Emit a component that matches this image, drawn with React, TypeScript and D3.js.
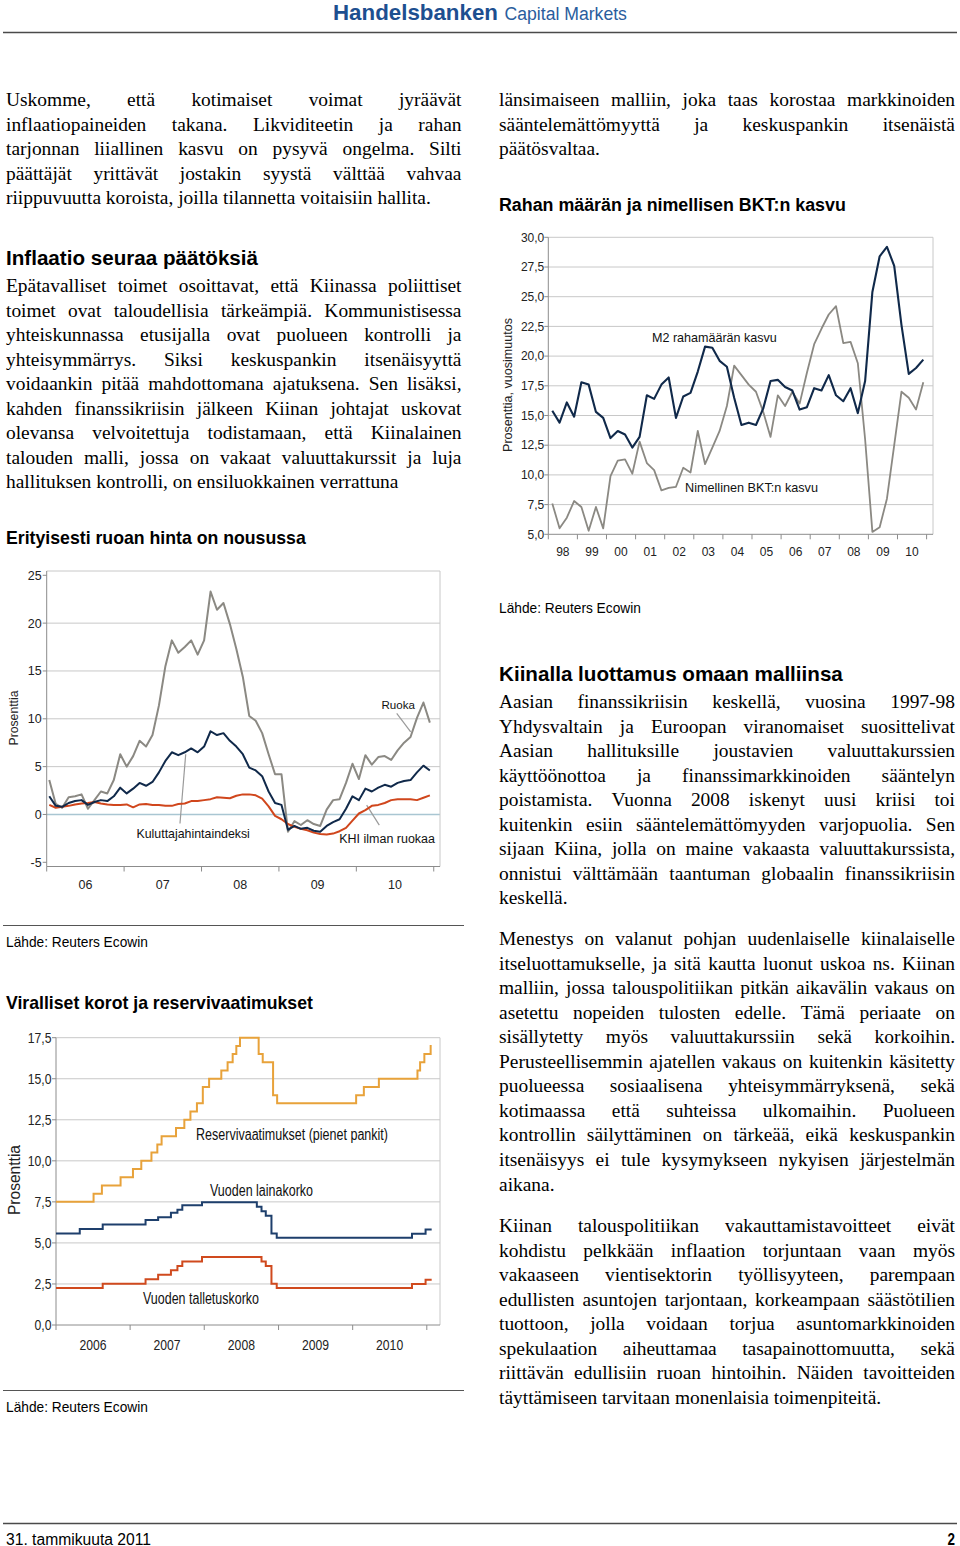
import React from 'react';
import * as d3 from 'd3';

// ---------------- Chart 1: money supply vs nominal GDP (quarterly 1998Q1–2010Q4)
const c1Years = d3.range(1998, 2011);
const c1YTicks = [5, 7.5, 10, 12.5, 15, 17.5, 20, 22.5, 25, 27.5, 30];
const m2Growth = [15.4, 14.4, 16.1, 14.9, 17.8, 17.6, 15.3, 14.8, 13.1, 13.7, 13.4, 12.3, 13.2, 16.7, 16.4, 17.6, 18.2, 14.8, 16.6, 16.9, 18.7, 20.8, 20.7, 19.6, 19.1, 16.5, 14.2, 14.4, 14.2, 15.6, 17.9, 18.0, 17.4, 17.1, 15.5, 15.7, 17.3, 17.1, 18.4, 16.7, 16.2, 17.3, 15.2, 17.9, 25.4, 28.4, 29.2, 27.6, 22.6, 18.5, 19.0, 19.7];
const gdpGrowth = [7.6, 5.5, 6.4, 7.8, 7.3, 5.3, 7.3, 5.5, 9.9, 11.2, 11.3, 10.1, 12.8, 11.0, 10.4, 8.7, 8.9, 9.0, 10.6, 10.2, 13.7, 10.9, 12.3, 13.7, 15.8, 19.2, 18.4, 17.6, 17.0, 15.3, 13.2, 16.7, 15.8, 17.0, 16.0, 18.6, 21.0, 22.3, 23.5, 24.2, 21.1, 21.2, 19.4, 13.0, 5.2, 5.6, 8.0, 12.5, 17.0, 16.5, 15.5, 17.8];

// ---------------- Chart 2: inflation (monthly 2006-01 – 2010-12)
const c2Years = ['06', '07', '08', '09', '10'];
const c2YTicks = [-5, 0, 5, 10, 15, 20, 25];
const foodInfl = [3.6, 1.1, 0.7, 1.8, 1.9, 2.1, 0.6, 1.5, 2.4, 2.2, 3.6, 6.3, 5.0, 6.1, 7.7, 7.1, 8.3, 11.4, 15.5, 18.2, 16.9, 17.5, 18.2, 16.7, 18.2, 23.3, 21.4, 22.1, 19.9, 17.3, 14.4, 10.3, 9.8, 8.5, 6.3, 4.2, 4.2, -1.8, -0.7, -1.1, -0.6, -1.0, -1.2, 0.5, 1.5, 1.6, 3.3, 5.3, 3.7, 6.2, 5.2, 6.0, 6.1, 5.7, 6.7, 7.5, 8.1, 10.1, 11.7, 9.6];
const cpiInfl = [1.9, 0.9, 0.8, 1.2, 1.4, 1.5, 1.0, 1.3, 1.5, 1.4, 1.9, 2.8, 2.2, 2.7, 3.3, 3.0, 3.4, 4.4, 5.6, 6.5, 6.2, 6.5, 6.9, 6.5, 7.1, 8.7, 8.3, 8.5, 7.7, 7.1, 6.3, 4.9, 4.6, 4.0, 2.4, 1.2, 1.0, -1.6, -1.2, -1.5, -1.4, -1.7, -1.8, -1.2, -0.8, -0.5, 0.6, 1.9, 1.5, 2.7, 2.4, 2.8, 3.1, 2.9, 3.3, 3.5, 3.6, 4.4, 5.1, 4.6];
const nonFoodInfl = [1.0, 0.7, 0.8, 0.9, 1.05, 1.15, 1.2, 1.3, 1.15, 1.05, 1.0, 1.0, 1.05, 0.75, 1.05, 1.1, 1.0, 1.0, 0.9, 0.9, 1.1, 1.15, 1.4, 1.4, 1.5, 1.6, 1.8, 1.75, 1.7, 1.95, 2.1, 2.1, 2.0, 1.65, 0.85, -0.15, -0.5, -1.0, -1.3, -1.5, -1.65, -1.9, -2.05, -2.1, -2.0, -1.75, -1.4, -0.65, 0.1, 0.45, 0.9, 1.0, 1.2, 1.5, 1.6, 1.6, 1.6, 1.5, 1.75, 2.0];

// ---------------- Chart 3: official rates & reserve requirement (step series)
const c3Years = ['2006', '2007', '2008', '2009', '2010'];
const c3YTicks = [0, 2.5, 5, 7.5, 10, 12.5, 15, 17.5];
const c3End = '2011-01-25';
const rrrDates = ['2006-01-01', '2006-07-05', '2006-08-15', '2006-11-15', '2007-01-15', '2007-02-25', '2007-04-16', '2007-05-15', '2007-06-05', '2007-08-15', '2007-09-25', '2007-10-25', '2007-11-26', '2007-12-25', '2008-01-25', '2008-03-25', '2008-04-25', '2008-05-20', '2008-06-07', '2008-06-25', '2008-09-25', '2008-10-15', '2008-12-05', '2008-12-25', '2010-01-18', '2010-02-25', '2010-05-10', '2010-11-16', '2010-11-29', '2010-12-20', '2011-01-20'];
const rrrValues = [7.5, 8.0, 8.5, 9.0, 9.5, 10.0, 10.5, 11.0, 11.5, 12.0, 12.5, 13.0, 13.5, 14.5, 15.0, 15.5, 16.0, 16.5, 17.0, 17.5, 16.5, 16.0, 14.0, 13.5, 14.0, 14.5, 15.0, 15.5, 16.0, 16.5, 17.0];
const lendDates = ['2006-01-01', '2006-04-28', '2006-08-19', '2007-03-18', '2007-05-19', '2007-07-21', '2007-08-22', '2007-09-15', '2007-12-21', '2008-09-16', '2008-10-09', '2008-10-30', '2008-11-27', '2008-12-23', '2010-10-20', '2010-12-26'];
const lendValues = [5.58, 5.85, 6.12, 6.39, 6.57, 6.84, 7.02, 7.29, 7.47, 7.2, 6.93, 6.66, 5.58, 5.31, 5.56, 5.81];
const depDates = ['2006-01-01', '2006-08-19', '2007-03-18', '2007-05-19', '2007-07-21', '2007-08-22', '2007-09-15', '2007-12-21', '2008-10-09', '2008-10-30', '2008-11-27', '2008-12-23', '2010-10-20', '2010-12-26'];
const depValues = [2.25, 2.52, 2.79, 3.06, 3.33, 3.6, 3.87, 4.14, 3.87, 3.6, 2.52, 2.25, 2.5, 2.75];

// ---------------- Text
const leftP1 = [
  'Uskomme, että kotimaiset voimat jyräävät',
  'inflaatiopaineiden takana. Likviditeetin ja rahan',
  'tarjonnan liiallinen kasvu on pysyvä ongelma. Silti',
  'päättäjät yrittävät jostakin syystä välttää vahvaa',
  'riippuvuutta koroista, joilla tilannetta voitaisiin hallita.',
];
const leftP2 = [
  'Epätavalliset toimet osoittavat, että Kiinassa poliittiset',
  'toimet ovat taloudellisia tärkeämpiä. Kommunistisessa',
  'yhteiskunnassa etusijalla ovat puolueen kontrolli ja',
  'yhteisymmärrys. Siksi keskuspankin itsenäisyyttä',
  'voidaankin pitää mahdottomana ajatuksena. Sen lisäksi,',
  'kahden finanssikriisin jälkeen Kiinan johtajat uskovat',
  'olevansa velvoitettuja todistamaan, että Kiinalainen',
  'talouden malli, jossa on vakaat valuuttakurssit ja luja',
  'hallituksen kontrolli, on ensiluokkainen verrattuna',
];
const rightP1 = [
  'länsimaiseen malliin, joka taas korostaa markkinoiden',
  'sääntelemättömyyttä ja keskuspankin itsenäistä',
  'päätösvaltaa.',
];
const rightP2 = [
  'Aasian finanssikriisin keskellä, vuosina 1997-98',
  'Yhdysvaltain ja Euroopan viranomaiset suosittelivat',
  'Aasian hallituksille joustavien valuuttakurssien',
  'käyttöönottoa ja finanssimarkkinoiden sääntelyn',
  'poistamista. Vuonna 2008 iskenyt uusi kriisi toi',
  'kuitenkin esiin sääntelemättömyyden varjopuolia. Sen',
  'sijaan Kiina, jolla on maine vakaasta valuuttakurssista,',
  'onnistui välttämään taantuman globaalin finanssikriisin',
  'keskellä.',
];
const rightP3 = [
  'Menestys on valanut pohjan uudenlaiselle kiinalaiselle',
  'itseluottamukselle, ja sitä kautta luonut uskoa ns. Kiinan',
  'malliin, jossa talouspolitiikan pitkän aikavälin vakaus on',
  'asetettu nopeiden tulosten edelle. Tämä periaate on',
  'sisällytetty myös valuuttakurssiin sekä korkoihin.',
  'Perusteellisemmin ajatellen vakaus on kuitenkin käsitetty',
  'puolueessa sosiaalisena yhteisymmärryksenä, sekä',
  'kotimaassa että suhteissa ulkomaihin. Puolueen',
  'kontrollin säilyttäminen on tärkeää, eikä keskuspankin',
  'itsenäisyys ei tule kysymykseen nykyisen järjestelmän',
  'aikana.',
];
const rightP4 = [
  'Kiinan talouspolitiikan vakauttamistavoitteet eivät',
  'kohdistu pelkkään inflaation torjuntaan vaan myös',
  'vakaaseen vientisektorin työllisyyteen, parempaan',
  'edullisten asuntojen tarjontaan, korkeampaan säästötilien',
  'tuottoon, jolla voidaan torjua asuntomarkkinoiden',
  'spekulaation aiheuttamaa tasapainottomuutta, sekä',
  'riittävän edullisiin ruoan hintoihin. Näiden tavoitteiden',
  'täyttämiseen tarvitaan monenlaisia toimenpiteitä.',
];

const SANS = '"Liberation Sans", Arial, sans-serif';
const SERIF = '"Liberation Serif", "Times New Roman", serif';

let _ctx: any = null;
function tw(s: string, font: string): number {
  if (!_ctx) _ctx = document.createElement('canvas').getContext('2d');
  _ctx.font = font;
  return _ctx.measureText(s).width;
}
function fitSize(s: string, w: number, family: string, weight = 'normal') {
  return (20 * w) / tw(s, `${weight} 20px ${family}`);
}

const BODY = fitSize(leftP1[4], 425, SERIF);
const LH = 24.55;

function Para({ x, y0, width, lines, lastJustify = false }: any) {
  const font = `${BODY}px ${SERIF}`;
  return (
    <g fontFamily={SERIF} fontSize={BODY} fill="#000">
      {lines.map((ln: string, li: number) => {
        const y = y0 + li * LH;
        const isLast = li === lines.length - 1;
        const words = ln.split(' ');
        if ((isLast && !lastJustify) || words.length < 2)
          return (
            <text key={li} x={x} y={y}>
              {ln}
            </text>
          );
        const ws = words.map((w) => tw(w, font));
        const gap = (width - ws.reduce((a, b) => a + b, 0)) / (words.length - 1);
        let cx = x;
        return (
          <text key={li} y={y}>
            {words.map((w, wi) => {
              const t = (
                <tspan key={wi} x={cx}>
                  {w}
                </tspan>
              );
              cx += ws[wi] + gap;
              return t;
            })}
          </text>
        );
      })}
    </g>
  );
}

function Fit({ x, y, w, text, family = SANS, weight = 'normal', fill = '#000', anchor = 'start' }: any) {
  const size = fitSize(text, w, family, weight);
  return (
    <text x={x} y={y} fontFamily={family} fontWeight={weight} fontSize={size} fill={fill} textAnchor={anchor}>
      {text}
    </text>
  );
}

// condensed text (Arial Narrow look) built by compressing Liberation Sans horizontally
function NText({ x, y, text, size, w, anchor = 'start', weight = 'normal', fill = '#111', dy, transform }: any) {
  const len = w ?? tw(text, `${weight} ${size}px ${SANS}`) * 0.84;
  return (
    <text
      x={x}
      y={y}
      dy={dy}
      transform={transform}
      fontFamily={SANS}
      fontSize={size}
      fontWeight={weight}
      fill={fill}
      textAnchor={anchor}
      textLength={len}
      lengthAdjust="spacingAndGlyphs"
    >
      {text}
    </text>
  );
}

function VTitle({ cx, cy, len, text }: any) {
  const size = fitSize(text, len, SANS);
  return (
    <text
      transform={`translate(${cx},${cy}) rotate(-90)`}
      textAnchor="middle"
      dy="0.35em"
      fontFamily={SANS}
      fontSize={size}
      fill="#222"
    >
      {text}
    </text>
  );
}

const GRID = '#c8c8c8';
const AXIS = '#8c8c8c';
const NAVY = '#10294a';
const GRAY = '#8b8983';
const RED = '#d0461c';

function Chart1() {
  const x = d3.scaleLinear().domain([1998, 2011.22]).range([548.3, 933]);
  const y = d3.scaleLinear().domain([5, 30]).range([534.3, 237.3]);
  const qx = (i: number) => x(1998 + 0.137 + i / 4);
  const line = d3
    .line<number>()
    .x((_, i) => qx(i))
    .y((d) => y(d));
  const fmt = (v: number) => d3.format('.1f')(v).replace('.', ',');
  const [x0, x1] = x.range();
  return (
    <g>
      {c1YTicks.map((v) => (
        <g key={v}>
          {v > 5 && <line x1={x0} x2={x1} y1={y(v)} y2={y(v)} stroke={GRID} strokeWidth={1} />}
          <line x1={x0 - 4} x2={x0} y1={y(v)} y2={y(v)} stroke={AXIS} />
          <text x={x0 - 4} y={y(v)} dy="0.35em" textAnchor="end" fontFamily={SANS} fontSize={12} fill="#222">
            {fmt(v)}
          </text>
        </g>
      ))}
      <line x1={x1} x2={x1} y1={y(30)} y2={y(5)} stroke={GRID} />
      <line x1={x0} x2={x0} y1={y(30)} y2={y(5)} stroke={AXIS} />
      <line x1={x0} x2={x1} y1={y(5)} y2={y(5)} stroke={AXIS} />
      {d3.range(1998, 2012).map((yr) => (
        <line key={yr} x1={x(yr)} x2={x(yr)} y1={y(5)} y2={y(5) + 5} stroke={AXIS} />
      ))}
      {c1Years.map((yr) => (
        <text key={yr} x={x(yr + 0.5)} y={555.5} textAnchor="middle" fontFamily={SANS} fontSize={12} fill="#222">
          {String(yr % 100).padStart(2, '0')}
        </text>
      ))}
      <path d={line(gdpGrowth) || ''} fill="none" stroke={GRAY} strokeWidth={1.8} strokeLinejoin="round" />
      <path d={line(m2Growth) || ''} fill="none" stroke={NAVY} strokeWidth={2.1} strokeLinejoin="round" />
      <Fit x={652} y={341.5} w={125} text="M2 rahamäärän kasvu" fill="#111" />
      <Fit x={685} y={491.5} w={133} text="Nimellinen BKT:n kasvu" fill="#111" />
      <VTitle cx={508} cy={385} len={134} text="Prosenttia, vuosimuutos" />
    </g>
  );
}

function Chart2() {
  const x = d3.scaleLinear().domain([-0.4, 60.57]).range([46.7, 440]);
  const y = d3.scaleLinear().domain([-5, 25]).range([862.3, 575.3]);
  const top = 571;
  const bottom = 866.5;
  const line = d3
    .line<number>()
    .x((_, i) => x(i))
    .y((d) => y(d));
  const [x0, x1] = x.range();
  const leaders = [
    { a: [20.26, -0.94], b: [21.15, 6.3] },
    { a: [53.86, 10.56], b: [56.03, 8.64] },
    { a: [49.2, 0.97], b: [51.16, -1.12] },
  ];
  return (
    <g>
      {c2YTicks.map((v) => (
        <g key={v}>
          {v > -5 && v < 25 && (
            <line x1={x0} x2={x1} y1={y(v)} y2={y(v)} stroke={v === 0 ? '#a9c6d2' : GRID} strokeWidth={v === 0 ? 1.4 : 1} />
          )}
          <line x1={x0 - 4} x2={x0} y1={y(v)} y2={y(v)} stroke={AXIS} />
          <text x={x0 - 5} y={y(v)} dy="0.35em" textAnchor="end" fontFamily={SANS} fontSize={12.5} fill="#222">
            {v}
          </text>
        </g>
      ))}
      <line x1={x0} x2={x1} y1={top} y2={top} stroke={GRID} />
      <line x1={x1} x2={x1} y1={top} y2={bottom} stroke={GRID} />
      <line x1={x0} x2={x0} y1={top} y2={bottom} stroke={AXIS} />
      <line x1={x0} x2={x1} y1={bottom} y2={bottom} stroke={AXIS} />
      {d3.range(0, 6).map((k) => (
        <line key={k} x1={x(-0.4 + 12 * k)} x2={x(-0.4 + 12 * k)} y1={bottom} y2={bottom + 5} stroke={AXIS} />
      ))}
      {c2Years.map((lab, k) => (
        <text key={lab} x={x(-0.4 + 12 * k + 6)} y={888.5} textAnchor="middle" fontFamily={SANS} fontSize={12.5} fill="#222">
          {lab}
        </text>
      ))}
      {leaders.map((l, i) => (
        <line key={i} x1={x(l.a[0])} y1={y(l.a[1])} x2={x(l.b[0])} y2={y(l.b[1])} stroke="#9a9a9a" strokeWidth={1.2} />
      ))}
      <path d={line(foodInfl) || ''} fill="none" stroke={GRAY} strokeWidth={2} strokeLinejoin="round" />
      <path d={line(nonFoodInfl) || ''} fill="none" stroke={RED} strokeWidth={2} strokeLinejoin="round" />
      <path d={line(cpiInfl) || ''} fill="none" stroke={NAVY} strokeWidth={2} strokeLinejoin="round" />
      <Fit x={381.5} y={708.5} w={33.5} text="Ruoka" fill="#111" />
      <Fit x={136.5} y={837.5} w={113.5} text="Kuluttajahintaindeksi" fill="#111" />
      <Fit x={339.3} y={843} w={95.7} text="KHI ilman ruokaa" fill="#111" />
      <VTitle cx={14} cy={718} len={55} text="Prosenttia" />
    </g>
  );
}

function Chart3() {
  const pd = d3.timeParse('%Y-%m-%d');
  const x = d3
    .scaleTime()
    .domain([pd('2006-01-01') as Date, pd('2011-03-07') as Date])
    .range([56, 440]);
  const y = d3.scaleLinear().domain([0, 17.5]).range([1325, 1037.7]);
  const [x0, x1] = x.range();
  const mk = (dates: string[], vals: number[]) => {
    const pts: [Date, number][] = dates.map((d, i) => [pd(d) as Date, vals[i]]);
    pts.push([pd(c3End) as Date, vals[vals.length - 1]]);
    return pts;
  };
  const line = d3
    .line<[Date, number]>()
    .x((d) => x(d[0]))
    .y((d) => y(d[1]))
    .curve(d3.curveStepAfter);
  const fmt = (v: number) => d3.format('.1f')(v).replace('.', ',');
  const years = d3.timeYear.range(pd('2006-01-01') as Date, pd('2011-06-01') as Date);
  return (
    <g>
      {c3YTicks.map((v) => (
        <g key={v}>
          {v > 0 && <line x1={x0} x2={x1} y1={y(v)} y2={y(v)} stroke={GRID} />}
          <line x1={x0 - 4} x2={x0} y1={y(v)} y2={y(v)} stroke={AXIS} />
          <NText x={x0 - 4.5} y={y(v)} dy="0.36em" anchor="end" size={14.5} text={fmt(v)} fill="#222" />
        </g>
      ))}
      <line x1={x1} x2={x1} y1={y(17.5)} y2={y(0)} stroke={GRID} />
      <line x1={x0} x2={x0} y1={y(17.5)} y2={y(0)} stroke={AXIS} />
      <line x1={x0} x2={x1} y1={y(0)} y2={y(0)} stroke={AXIS} />
      {years.map((d, k) => (
        <line key={k} x1={x(d)} x2={x(d)} y1={y(0)} y2={y(0) + 5} stroke={AXIS} />
      ))}
      {c3Years.map((lab) => (
        <NText key={lab} x={x(pd(`${lab}-07-02`) as Date)} y={1349.5} anchor="middle" size={14.5} text={lab} fill="#222" />
      ))}
      <path d={line(mk(rrrDates, rrrValues)) || ''} fill="none" stroke="#e8a23a" strokeWidth={2} />
      <path d={line(mk(lendDates, lendValues)) || ''} fill="none" stroke="#1e3f6c" strokeWidth={2} />
      <path d={line(mk(depDates, depValues)) || ''} fill="none" stroke="#d04a1e" strokeWidth={2} />
      <NText x={196} y={1140} size={16} w={192} text="Reservivaatimukset (pienet pankit)" />
      <NText x={210} y={1196} size={16} w={103} text="Vuoden lainakorko" />
      <NText x={143} y={1304} size={16} w={116} text="Vuoden talletuskorko" />
      <NText
        x={0}
        y={0}
        dy="0.35em"
        anchor="middle"
        size={16}
        w={70}
        text="Prosenttia"
        fill="#222"
        transform="translate(14,1180) rotate(-90)"
      />
    </g>
  );
}

export default function App() {
  return (
    <svg
      width={960}
      height={1546}
      viewBox="0 0 960 1546"
      style={{ position: 'absolute', left: 0, top: 0, background: '#fff' }}
    >
      <rect x={0} y={0} width={960} height={1546} fill="#fff" />
      {/* header */}
      <Fit x={333} y={20} w={165} text="Handelsbanken" weight="bold" fill="#1d4f90" />
      <Fit x={504.5} y={20} w={122.5} text="Capital Markets" fill="#2a5d9d" />
      <line x1={3} x2={957} y1={32.5} y2={32.5} stroke="#4a4a4a" strokeWidth={1.6} />

      {/* left column */}
      <Para x={6} y0={106} width={455.5} lines={leftP1} />
      <Fit x={6} y={264.5} w={252} text="Inflaatio seuraa päätöksiä" weight="bold" />
      <Para x={6} y0={292} width={455.5} lines={leftP2} />
      <Fit x={6} y={544} w={300} text="Erityisesti ruoan hinta on nousussa" weight="bold" />
      <Chart2 />
      <line x1={3} x2={464} y1={925.5} y2={925.5} stroke="#555" strokeWidth={1.2} />
      <Fit x={6} y={947} w={142} text="Lähde: Reuters Ecowin" />
      <Fit x={6} y={1009} w={307} text="Viralliset korot ja reservivaatimukset" weight="bold" />
      <Chart3 />
      <line x1={3} x2={464} y1={1390.5} y2={1390.5} stroke="#555" strokeWidth={1.2} />
      <Fit x={6} y={1412} w={142} text="Lähde: Reuters Ecowin" />

      {/* right column */}
      <Para x={499} y0={106} width={456} lines={rightP1} />
      <Fit x={499} y={211} w={347} text="Rahan määrän ja nimellisen BKT:n kasvu" weight="bold" />
      <Chart1 />
      <Fit x={499} y={613} w={142} text="Lähde: Reuters Ecowin" />
      <Fit x={499} y={680.5} w={344} text="Kiinalla luottamus omaan malliinsa" weight="bold" />
      <Para x={499} y0={708} width={456} lines={rightP2} />
      <Para x={499} y0={945} width={456} lines={rightP3} />
      <Para x={499} y0={1232} width={456} lines={rightP4} />

      {/* footer */}
      <line x1={3} x2={957} y1={1523.5} y2={1523.5} stroke="#4a4a4a" strokeWidth={1.6} />
      <NText x={6} y={1544.5} size={16} w={145} text="31. tammikuuta 2011" fill="#000" />
      <NText x={955} y={1544.5} anchor="end" size={16} weight="bold" text="2" fill="#000" />
    </svg>
  );
}
